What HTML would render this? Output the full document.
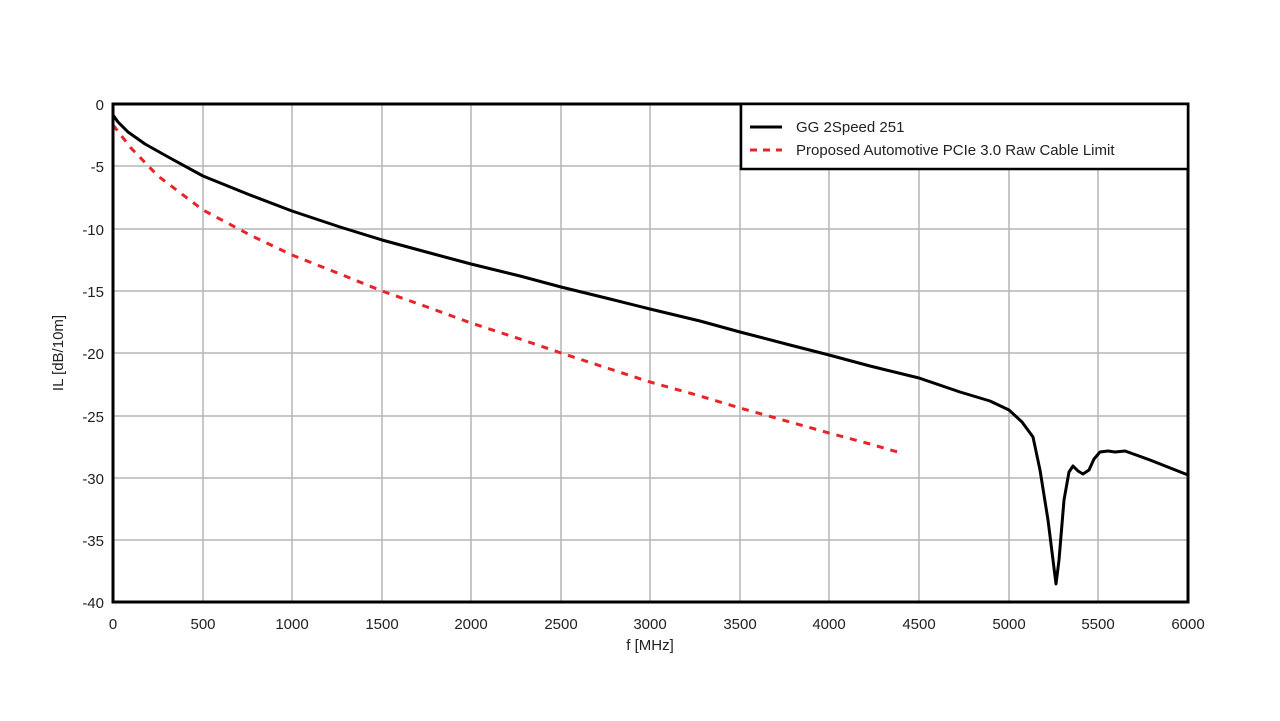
<!DOCTYPE html>
<html><head><meta charset="utf-8"><style>
html,body{margin:0;padding:0;background:#fff;}
svg{display:block;font-family:"Liberation Sans",Arial,sans-serif;}
</style></head><body>
<svg width="1280" height="721" viewBox="0 0 1280 721">
<g stroke="#b5b5b5" stroke-width="1.5">
<line x1="203" y1="104" x2="203" y2="602"/><line x1="292" y1="104" x2="292" y2="602"/>
<line x1="382" y1="104" x2="382" y2="602"/><line x1="471" y1="104" x2="471" y2="602"/>
<line x1="561" y1="104" x2="561" y2="602"/><line x1="650" y1="104" x2="650" y2="602"/>
<line x1="740" y1="104" x2="740" y2="602"/><line x1="829" y1="104" x2="829" y2="602"/>
<line x1="919" y1="104" x2="919" y2="602"/><line x1="1009" y1="104" x2="1009" y2="602"/>
<line x1="1098" y1="104" x2="1098" y2="602"/>
<line x1="113" y1="166" x2="1188" y2="166"/><line x1="113" y1="229" x2="1188" y2="229"/>
<line x1="113" y1="291" x2="1188" y2="291"/><line x1="113" y1="353" x2="1188" y2="353"/>
<line x1="113" y1="416" x2="1188" y2="416"/><line x1="113" y1="478" x2="1188" y2="478"/>
<line x1="113" y1="540" x2="1188" y2="540"/>
</g>
<polyline fill="none" stroke="#e8242b" stroke-width="3" stroke-dasharray="7,7" points="113,125 131,148 158,176 203,210 250,235 292,255 340,274 382,291 430,308 471,323 520,339 561,353 610,369 650,382 700,396 740,408 790,422 829,433 870,444 901,453"/>
<polyline fill="none" stroke="#000" stroke-width="3" stroke-linejoin="round" points="113,115 118,122 128,132 145,144 170,158 203,176 250,195 292,211 340,227 382,240 430,253 471,264 520,276 561,287 610,299 650,309 700,321 740,332 790,345 829,355 870,366 919,378 960,392 990,401 1009,410 1022,422 1033,437 1040,470 1048,520 1053,560 1056,584 1059,560 1064,500 1069,472 1073,466 1078,471 1083,474 1089,470 1094,459 1100,452 1108,451 1115,452 1125,451 1150,460 1188,475"/>
<rect x="113" y="104" width="1075" height="498" fill="none" stroke="#000" stroke-width="3"/>
<rect x="741" y="104" width="447" height="65" fill="#fff" stroke="#000" stroke-width="2.5"/>
<line x1="750" y1="127" x2="782" y2="127" stroke="#000" stroke-width="3"/>
<line x1="750" y1="150" x2="782" y2="150" stroke="#e8242b" stroke-width="3" stroke-dasharray="7,6"/>
<g font-size="15" fill="#222">
<text x="796" y="132">GG 2Speed 251</text>
<text x="796" y="155">Proposed Automotive PCIe 3.0 Raw Cable Limit</text>
</g>
<g font-size="15" fill="#222" text-anchor="end">
<text x="104" y="110">0</text><text x="104" y="172">-5</text><text x="104" y="235">-10</text>
<text x="104" y="297">-15</text><text x="104" y="359">-20</text><text x="104" y="422">-25</text>
<text x="104" y="484">-30</text><text x="104" y="546">-35</text><text x="104" y="608">-40</text>
</g>
<g font-size="15" fill="#222" text-anchor="middle">
<text x="113" y="629">0</text><text x="203" y="629">500</text><text x="292" y="629">1000</text>
<text x="382" y="629">1500</text><text x="471" y="629">2000</text><text x="561" y="629">2500</text>
<text x="650" y="629">3000</text><text x="740" y="629">3500</text><text x="829" y="629">4000</text>
<text x="919" y="629">4500</text><text x="1009" y="629">5000</text><text x="1098" y="629">5500</text>
<text x="1188" y="629">6000</text>
<text x="650" y="650">f [MHz]</text>
<text transform="translate(63,353) rotate(-90)">IL [dB/10m]</text>
</g>
</svg>
</body></html>
